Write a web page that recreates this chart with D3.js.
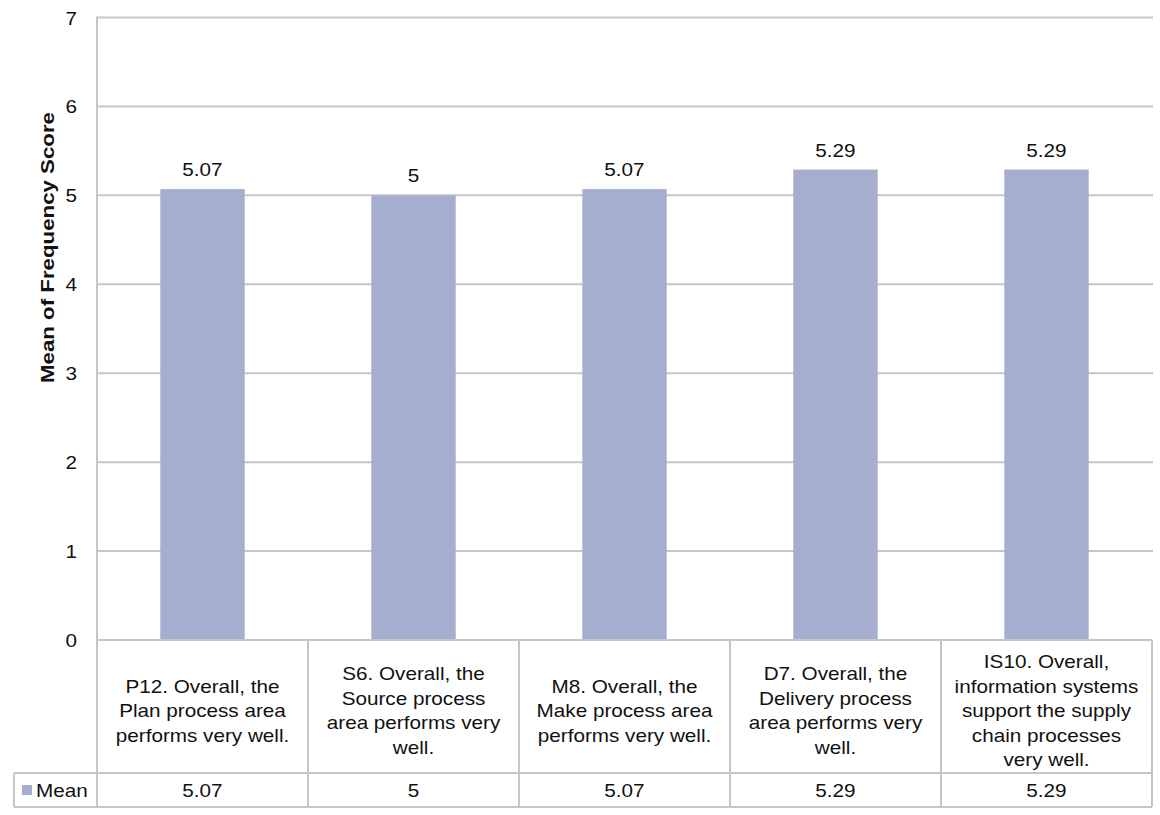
<!DOCTYPE html>
<html><head><meta charset="utf-8">
<script src="https://cdn.jsdelivr.net/npm/d3@7"></script>
<style>body{margin:0;background:#fff}text{font-family:"Liberation Sans",Arial,sans-serif;fill:#111}</style>
</head><body>
<svg id="c" width="1160" height="815"></svg>
<script>
const categories = [
  ["P12. Overall, the","Plan process area","performs very well."],
  ["S6. Overall, the","Source process","area performs very","well."],
  ["M8. Overall, the","Make process area","performs very well."],
  ["D7. Overall, the","Delivery process","area performs very","well."],
  ["IS10. Overall,","information systems","support the supply","chain processes","very well."]
];
const keys = ["P12","S6","M8","D7","IS10"];
const meanValues = [5.07, 5, 5.07, 5.29, 5.29];
const meanLabels = ["5.07","5","5.07","5.29","5.29"];
const yTicks = [0,1,2,3,4,5,6,7];
const seriesName = "Mean";
const yTitle = "Mean of Frequency Score";

const svg = d3.select("#c");
const L = 97, R = 1152, T = 17.5, B = 640;
const rowTop = 773, rowBot = 807, legendLeft = 14;
const SX = 1.15;
const grid = "#c6c6c6", barColor = "#a6aecf";

const x = d3.scaleBand().domain(keys).range([L, R]).paddingInner(0).paddingOuter(0);
const y = d3.scaleLinear().domain([0, 7]).range([B, T]);

function txt(g, tx, ty, s, opts={}) {
  return g.append("text")
    .attr("transform", `translate(${tx},${ty}) scale(${SX},1)`)
    .attr("text-anchor", opts.anchor || "middle")
    .style("font-size", (opts.size || 18) + "px")
    .style("font-weight", opts.weight || "normal")
    .text(s);
}

// gridlines
svg.append("g").selectAll("line").data(yTicks.filter(d => d > 0)).join("line")
  .attr("x1", L).attr("x2", R + 1).attr("y1", d => y(d)).attr("y2", d => y(d))
  .attr("stroke", grid).attr("stroke-width", 2);

// tick labels
const tg = svg.append("g");
yTicks.forEach(t => txt(tg, 77, y(t) + 7, String(t), {anchor: "end", size: 18}));

// y title
svg.append("text")
  .attr("transform", `translate(54,${(112 + 383) / 2}) rotate(-90)`)
  .attr("text-anchor", "middle")
  .style("font-size", "18px").style("font-weight", "bold")
  .attr("textLength", 271).attr("lengthAdjust", "spacingAndGlyphs")
  .text(yTitle);

// bars
const bw = x.bandwidth() * 0.4;
svg.append("g").selectAll("rect").data(meanValues).join("rect")
  .attr("x", (d, i) => x(keys[i]) + x.bandwidth() / 2 - bw / 2)
  .attr("width", bw)
  .attr("y", d => y(d))
  .attr("height", d => B - y(d))
  .attr("fill", barColor);

// value labels
const vg = svg.append("g");
meanValues.forEach((d, i) => txt(vg, x(keys[i]) + x.bandwidth() / 2, y(d) - 13, meanLabels[i], {size: 18}));

// table
const tab = svg.append("g").attr("stroke", grid).attr("stroke-width", 2);
tab.append("line").attr("x1", L).attr("x2", R).attr("y1", B).attr("y2", B);
tab.append("line").attr("x1", legendLeft).attr("x2", R).attr("y1", rowTop).attr("y2", rowTop);
tab.append("line").attr("x1", legendLeft).attr("x2", R).attr("y1", rowBot).attr("y2", rowBot);
tab.append("line").attr("x1", legendLeft).attr("x2", legendLeft).attr("y1", rowTop).attr("y2", rowBot);
tab.append("line").attr("x1", L).attr("x2", L).attr("y1", T - 1).attr("y2", rowBot);
keys.forEach(k => {
  const xe = x(k) + x.bandwidth();
  tab.append("line").attr("x1", xe).attr("x2", xe).attr("y1", B).attr("y2", rowBot);
});

// header texts
const hg = svg.append("g");
const lh = 24.5, hc = 711;
categories.forEach((lines, i) => {
  const cx = x(keys[i]) + x.bandwidth() / 2;
  const y0 = hc - (lines.length - 1) * lh / 2 + 6;
  lines.forEach((s, j) => txt(hg, cx, y0 + j * lh, s, {size: 18}));
});

// data row
meanLabels.forEach((s, i) => txt(hg, x(keys[i]) + x.bandwidth() / 2, 797, s, {size: 18}));
svg.append("rect").attr("x", 22).attr("y", 785).attr("width", 10).attr("height", 10).attr("fill", barColor);
txt(hg, 36, 797, seriesName, {anchor: "start", size: 18});
</script>
</body></html>
